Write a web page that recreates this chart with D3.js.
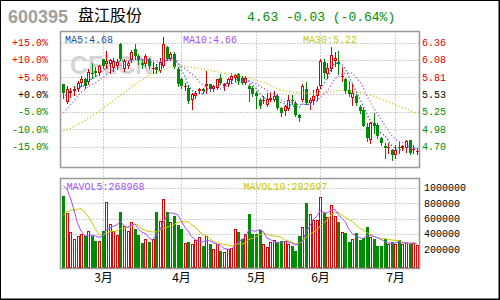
<!DOCTYPE html>
<html>
<head>
<meta charset="utf-8">
<script src="https://d3js.org/d3.v7.min.js"></script>
<style>
body{margin:0;background:#fff}
svg{display:block}
</style>
</head>
<body>
<div id="root"></div>
<script>
// header
const stockCode = "600395"
const stockName = "盘江股份"
const quoteText = "4.63 -0.03 (-0.64%)"

// daily candles
const opens = [5.69,5.41,5.56,5.58,5.61,5.72,5.77,5.73,5.88,5.90,5.87,6.09,6.01,6.01,5.96,5.98,6.33,5.93,5.98,6.08,
  6.25,6.14,6.04,6.01,6.10,5.93,5.97,5.90,5.99,6.28,6.10,6.18,5.94,5.78,5.65,5.64,5.44,5.50,5.59,5.61,
  5.66,5.69,5.61,5.64,5.80,5.66,5.69,5.76,5.79,5.85,5.80,5.72,5.66,5.64,5.56,5.44,5.42,5.37,5.44,5.45,
  5.50,5.31,5.26,5.30,5.45,5.40,5.20,5.45,5.62,5.39,5.42,5.50,5.66,6.045,5.85,5.935,6.06,6.045,5.81,5.78,
  5.60,5.48,5.51,5.33,5.29,5.01,4.81,5.07,5.05,4.84,4.71,4.69,4.65,4.56,4.69,4.68,4.68,4.80,4.65,4.62]
const highs = [5.70,5.66,5.64,5.66,5.74,5.82,5.80,5.93,6.03,5.97,6.00,6.10,6.22,6.10,6.12,6.10,6.35,6.10,6.06,6.24,
  6.33,6.18,6.08,6.18,6.12,6.05,6.02,6.11,6.45,6.31,6.20,6.20,5.97,5.80,5.72,5.66,5.55,5.58,5.64,5.64,
  5.90,5.70,5.68,5.78,5.86,5.72,5.80,5.88,5.85,5.87,5.82,5.82,5.69,5.66,5.58,5.47,5.50,5.56,5.56,5.58,
  5.53,5.33,5.37,5.52,5.52,5.42,5.22,5.70,5.73,5.48,5.60,5.66,6.09,6.10,6.03,6.28,6.20,6.23,5.97,5.80,
  5.75,5.69,5.53,5.37,5.32,5.08,5.09,5.23,5.08,4.86,4.76,4.75,4.66,4.72,4.77,4.73,4.80,4.81,4.73,4.67]
const lows = [5.48,5.39,5.49,5.52,5.58,5.67,5.63,5.70,5.80,5.83,5.84,5.95,5.96,5.88,5.90,5.94,6.08,5.90,5.96,6.05,
  6.10,6.02,5.96,5.98,5.95,5.88,5.88,5.89,5.97,6.08,6.08,5.95,5.67,5.64,5.60,5.40,5.30,5.48,5.56,5.56,
  5.56,5.58,5.58,5.61,5.70,5.60,5.66,5.72,5.74,5.70,5.70,5.70,5.42,5.50,5.32,5.32,5.40,5.35,5.42,5.43,
  5.30,5.19,5.20,5.28,5.38,5.18,5.11,5.42,5.38,5.30,5.38,5.45,5.64,5.80,5.80,5.90,5.98,5.85,5.74,5.56,
  5.51,5.36,5.36,5.24,5.02,4.79,4.76,4.92,4.84,4.73,4.52,4.60,4.49,4.52,4.60,4.65,4.62,4.58,4.60,4.58]
const closes = [5.55,5.61,5.58,5.62,5.72,5.78,5.66,5.89,5.85,5.87,5.98,5.98,6.06,6.08,6.06,6.05,6.10,6.06,6.03,6.20,
  6.14,6.08,6.00,6.14,5.99,5.96,5.92,6.05,6.33,6.10,6.17,5.97,5.69,5.67,5.67,5.42,5.53,5.56,5.61,5.59,
  5.69,5.61,5.66,5.77,5.72,5.69,5.77,5.82,5.84,5.74,5.72,5.80,5.61,5.53,5.50,5.34,5.45,5.46,5.48,5.50,
  5.32,5.24,5.35,5.45,5.42,5.20,5.16,5.67,5.40,5.45,5.50,5.61,6.06,5.87,5.96,6.16,6.11,6.02,5.83,5.59,
  5.53,5.56,5.39,5.26,5.025,4.84,5.07,5.025,4.865,4.75,4.68,4.70,4.56,4.64,4.67,4.705,4.79,4.60,4.66,4.63]
const volumes = [897000,668000,419000,329000,368000,394000,368000,432000,368000,303000,303000,432000,811000,523000,432000,381000,690000,497000,432000,561000,
  467000,381000,277000,329000,290000,329000,690000,574000,858000,690000,561000,639000,510000,458000,282000,294000,265000,325000,359000,239000,
  368000,265000,200000,265000,174000,161000,200000,213000,458000,419000,329000,394000,665000,394000,394000,445000,265000,226000,290000,316000,
  290000,303000,303000,265000,239000,174000,368000,488000,806000,665000,587000,587000,884000,677000,626000,781000,639000,553000,419000,406000,
  290000,338000,406000,316000,342000,484000,355000,329000,239000,239000,335000,262000,300000,265000,320000,262000,280000,265000,280000,258000]

// sessions before the window, only used to start the moving averages
const priorCloses = [4.82,4.78,4.75,4.80,4.84,4.79,4.76,4.72,4.74,4.78,4.81,4.85,4.83,4.79,4.77,4.80,4.78,4.76,4.80,4.83,
  5.00,4.95,5.02,4.98,5.10,5.25,5.40,5.50,5.65]
const priorVolumes = [250000,280000,240000,300000,250000,900000,1000000,1100000,1250000]

// axes
const months = ["3月","4月","5月","6月","7月"]
const monthStarts = [11,33,54,72,93]
const basePrice = 5.53
const pctTicks = [15,10,5,0,-5,-10,-15]
const pctLabels = ["+15.0%","+10.0%","+5.0%","+0.0%","-5.0%","-10.0%","-15.0%"]
const priceLabels = ["6.36","6.08","5.81","5.53","5.25","4.98","4.70"]
const volTicks = [1000000,800000,600000,400000,200000]
const maLabels = ["MA5:4.68","MA10:4.66","MA30:5.22"]
const volMaLabels = ["MAVOL5:268968","MAVOL10:282697"]

const RED = "#e00000", GREEN = "#008c00", BLUE = "#1c4fa0", PURPLE = "#a64dff", YELLOW = "#c8c800"
const MONO = "'Liberation Mono','DejaVu Sans Mono',monospace"

const W = 500, H = 300
const main = {left:60.5, right:419.5, top:31.5, bottom:167.5}
const vol = {left:60.5, right:419.5, top:178.5, bottom:268.5}
const n = closes.length

const svg = d3.select("#root").append("svg")
  .attr("width", W).attr("height", H)
  .style("font-family", MONO)

const x = d3.scaleLinear().domain([0, n-1]).range([63.3, 416.7])
const y = d3.scaleLinear().domain([basePrice*0.85, basePrice*1.15]).range([146.5, 42.5])
const yv = d3.scaleLinear().domain([0, 1000000]).range([264.6, 187.8])
const cx = i => Math.round(x(i)) + 0.5
const snap = v => Math.round(v) + 0.5

function movingAvg(prior, vals, k) {
  const all = prior.concat(vals), off = prior.length
  return vals.map((_, i) => d3.mean(all.slice(off+i-k+1, off+i+1)))
}

// header
svg.append("text").attr("x", 8).attr("y", 23)
  .style("font-family", "'Liberation Sans',Arial,sans-serif").style("font-weight", "bold")
  .style("font-size", "18px").attr("fill", "#a0a0a0").text(stockCode)
svg.append("text").attr("x", 78).attr("y", 21)
  .style("font-family", "'Noto Sans CJK SC',sans-serif").style("font-size", "16px")
  .attr("fill", "#000").text(stockName)
svg.append("text").attr("x", 247).attr("y", 21)
  .style("font-size", "13px").attr("fill", "#009000").text(quoteText)

// grid
const grid = svg.append("g").attr("stroke", "#a0a0a0").attr("stroke-dasharray", "1,2").attr("fill", "none")
pctTicks.forEach(p => {
  const yy = snap(y(basePrice*(1+p/100)))
  grid.append("line").attr("x1", main.left).attr("x2", main.right).attr("y1", yy).attr("y2", yy)
})
volTicks.forEach(v => {
  const yy = snap(yv(v))
  grid.append("line").attr("x1", vol.left).attr("x2", vol.right).attr("y1", yy).attr("y2", yy)
})
monthStarts.forEach(i => {
  grid.append("line").attr("x1", cx(i)).attr("x2", cx(i)).attr("y1", main.top).attr("y2", vol.bottom)
})

// watermark
svg.append("text").attr("x", 70).attr("y", 73.5)
  .style("font-family", "'Liberation Sans',Arial,sans-serif").style("font-weight", "bold")
  .style("font-size", "25px").attr("fill", "#d4d4d4").text("CFi.CN")

// axis labels
pctTicks.forEach((p, k) => {
  svg.append("text").attr("x", 48).attr("y", y(basePrice*(1+p/100))).attr("dy", "0.35em")
    .attr("text-anchor", "end").style("font-size", "10px")
    .attr("fill", p > 0 ? RED : p < 0 ? GREEN : "#000").text(pctLabels[k])
  svg.append("text").attr("x", 422).attr("y", y(basePrice*(1+p/100))).attr("dy", "0.35em")
    .style("font-size", "10px")
    .attr("fill", p > 0 ? RED : p < 0 ? GREEN : "#000").text(priceLabels[k])
})
volTicks.forEach(v => {
  svg.append("text").attr("x", 424).attr("y", yv(v)).attr("dy", "0.35em")
    .style("font-size", "10px").attr("fill", "#000").text(v)
})
monthStarts.forEach((i, k) => {
  svg.append("text").attr("x", cx(i)).attr("y", 282).attr("text-anchor", "middle")
    .style("font-family", "'Noto Sans CJK SC',sans-serif").style("font-size", "12px")
    .attr("fill", "#000").text(months[k])
})

// candles
const candles = svg.append("g")
d3.range(n).forEach(i => {
  const up = closes[i] >= opens[i]
  const col = up ? RED : GREEN
  const c = cx(i)
  candles.append("line").attr("x1", c).attr("x2", c)
    .attr("y1", Math.round(y(highs[i]))).attr("y2", Math.round(y(lows[i])) + 1)
    .attr("stroke", col).attr("stroke-width", 1)
  const top = Math.round(y(Math.max(opens[i], closes[i])))
  const bot = Math.round(y(Math.min(opens[i], closes[i])))
  if (!up) {
    candles.append("rect").attr("x", c-1.5).attr("y", top).attr("width", 3)
      .attr("height", Math.max(1, bot-top)).attr("fill", col)
  } else if (bot - top < 3) {
    candles.append("rect").attr("x", c-1.5).attr("y", top).attr("width", 3)
      .attr("height", Math.max(1, bot-top)).attr("fill", col)
  } else {
    candles.append("rect").attr("x", c-1).attr("y", top+0.5).attr("width", 2)
      .attr("height", bot-top-1).attr("fill", "#fff").attr("stroke", col).attr("stroke-width", 1)
  }
})

// volume bars
const bars = svg.append("g")
d3.range(n).forEach(i => {
  const up = closes[i] >= opens[i]
  const col = up ? RED : GREEN
  const c = cx(i)
  const top = Math.round(yv(volumes[i]))
  if (up) {
    bars.append("rect").attr("x", c-1).attr("y", top+0.5).attr("width", 2)
      .attr("height", vol.bottom - top - 1).attr("fill", "#fff").attr("stroke", col).attr("stroke-width", 1)
  } else {
    bars.append("rect").attr("x", c-1.5).attr("y", top).attr("width", 3)
      .attr("height", vol.bottom - top).attr("fill", col)
  }
})

// moving averages
const ma5 = movingAvg(priorCloses, closes, 5)
const ma10 = movingAvg(priorCloses, closes, 10)
const ma30 = movingAvg(priorCloses, closes, 30)
const priceLine = d3.line().x((d, i) => x(i)).y(d => y(d))
;[[ma30, YELLOW], [ma10, PURPLE], [ma5, BLUE]].forEach(([vals, col]) => {
  svg.append("path").attr("d", priceLine(vals)).attr("fill", "none")
    .attr("stroke", col).attr("stroke-width", 1.2).attr("stroke-dasharray", "1.2,2.2")
})

const mavol5 = movingAvg(priorVolumes, volumes, 5)
const mavol10 = movingAvg(priorVolumes, volumes, 10)
const volLine = d3.line().x((d, i) => x(i)).y(d => yv(d))
svg.append("defs").append("clipPath").attr("id", "volclip").append("rect")
  .attr("x", vol.left).attr("y", vol.top).attr("width", vol.right - vol.left).attr("height", vol.bottom - vol.top)
;[[mavol10, YELLOW], [mavol5, PURPLE]].forEach(([vals, col]) => {
  svg.append("path").attr("d", volLine(vals)).attr("fill", "none").attr("clip-path", "url(#volclip)")
    .attr("stroke", col).attr("stroke-width", 1)
})

// legends
const maX = [65, 183, 303], maCol = [BLUE, PURPLE, YELLOW]
maLabels.forEach((t, k) => {
  svg.append("text").attr("x", maX[k]).attr("y", 42.5).style("font-size", "10px")
    .attr("fill", maCol[k]).text(t)
})
const volX = [66.5, 243.5], volCol = [PURPLE, YELLOW]
volMaLabels.forEach((t, k) => {
  svg.append("text").attr("x", volX[k]).attr("y", 189.5).style("font-size", "10px")
    .attr("fill", volCol[k]).text(t)
})

// panel frames
;[main, vol].forEach(p => {
  svg.append("rect").attr("x", p.left).attr("y", p.top)
    .attr("width", p.right - p.left).attr("height", p.bottom - p.top)
    .attr("fill", "none").attr("stroke", "#999").attr("stroke-width", 1.5)
})

// outer border
svg.append("rect").attr("x", 0.5).attr("y", 0.5).attr("width", W - 1.5).attr("height", H - 1.5)
  .attr("fill", "none").attr("stroke", "#000").attr("stroke-width", 1)
svg.append("path").attr("d", `M${W-0.5},0V${H-0.5}H0`).attr("fill", "none").attr("stroke", "#000")
</script>
</body>
</html>
